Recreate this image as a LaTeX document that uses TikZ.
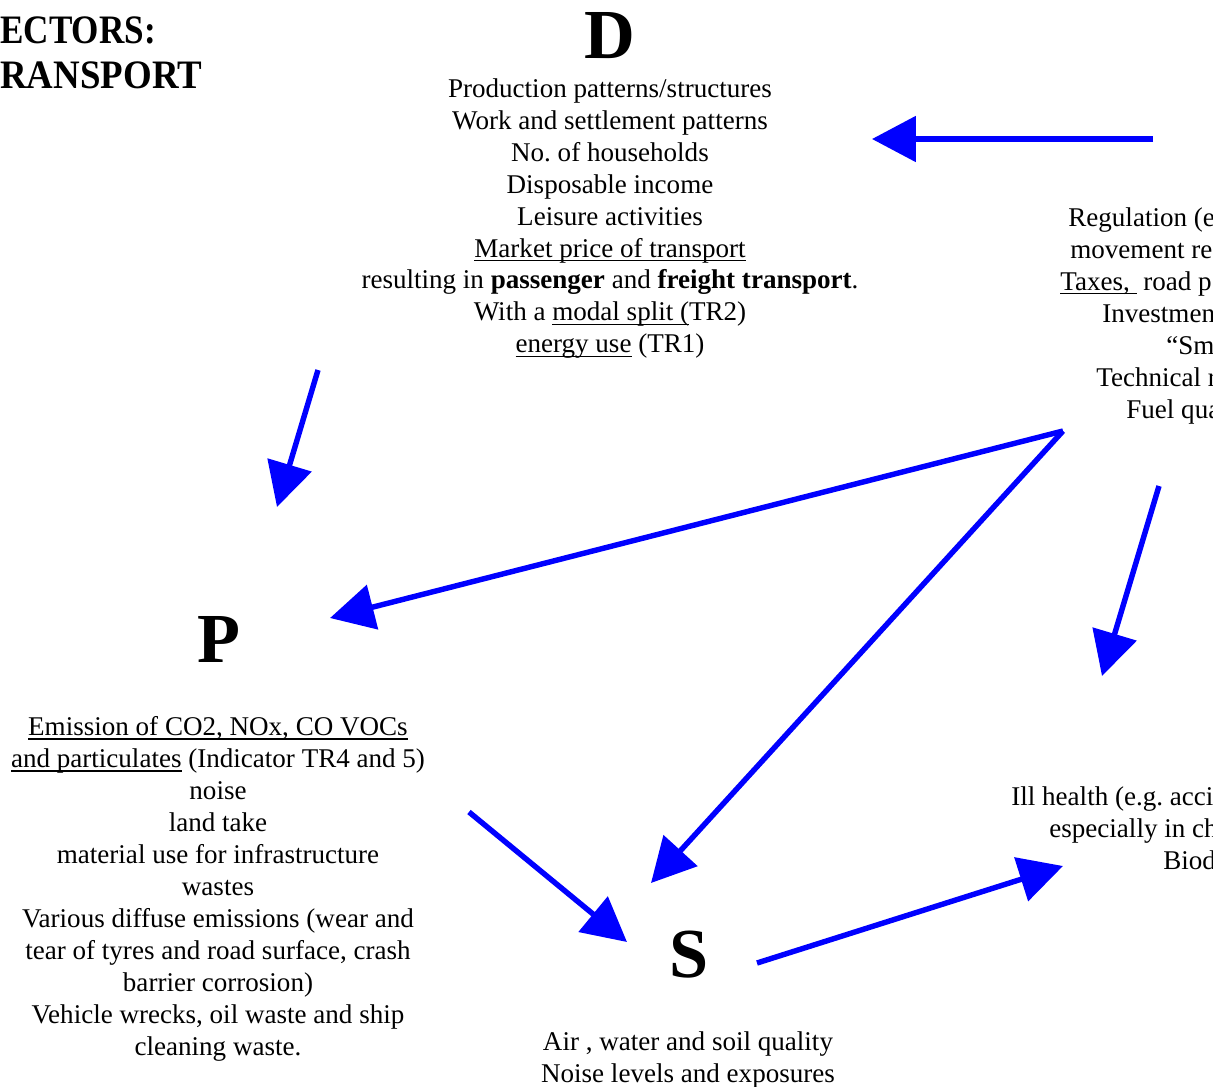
\documentclass[tikz,border=0pt]{standalone}
\usepackage{fontspec}
\setmainfont{Liberation Serif}
\usetikzlibrary{arrows.meta}
\newsavebox{\ulbox}
\newcommand{\ulined}[1]{\sbox{\ulbox}{#1}\rlap{\rule[-2.4pt]{\wd\ulbox}{0.8pt}}\usebox{\ulbox}}
\frenchspacing
\begin{document}
\begin{tikzpicture}[x=0.02cm, y=-0.02cm,
  txt/.style={inner sep=0pt, font=\fontsize{15.4}{18.2}\selectfont},
  letter/.style={inner sep=0pt, font=\fontsize{40}{48}\selectfont\bfseries},
  head/.style={inner sep=0pt, font=\fontsize{20}{24}\selectfont\bfseries},
  arr/.style={blue, line width=3.1pt, -{Triangle[length=25pt, width=25.6pt]}}]
\useasboundingbox (0,0) rectangle (1228,1086);
\clip (0,0) rectangle (1212,1086);

%heading
  \node[head, anchor=base west] (sec1) at (0,43) {\scalebox{1}[1.15]{ECTORS:}};
  \node[head, anchor=base west] (sec2) at (0,88) {\scalebox{1.05}[1.15]{RANSPORT}};

%driving forces
  \node[letter, anchor=base] (D) at (610,58) {D};
  \node[txt, align=center, anchor=north] (dtext) at (610,78) {Production patterns/structures\\
    Work and settlement patterns\\ No. of households\\ Disposable income\\
    Leisure activities\\ \ulined{Market price of transport}\\
    resulting in \textbf{passenger} and \textbf{freight transport}.\\
    With a \ulined{modal split (}TR2)\\ \ulined{energy use} (TR1)};

%responses (cut at the edge)
  \node[txt, anchor=base west] (r1) at (1068,226) {Regulation (e};
  \node[txt, anchor=base west] (r2) at (1070,258) {movement re};
  \node[txt, anchor=base west] (r3) at (1060,290) {\ulined{Taxes,\ }\ road p};
  \node[txt, anchor=base west] (r4) at (1102,322) {Investment};
  \node[txt, anchor=base west] (r5) at (1166,354) {“Sm};
  \node[txt, anchor=base west] (r6) at (1096,386) {Technical r};
  \node[txt, anchor=base west] (r7) at (1126,418) {Fuel qua};

%pressures
  \node[letter, anchor=base] (P) at (219,662) {P};
  \node[txt, align=center, anchor=north] (ptext) at (218,716) {\ulined{Emission of CO2, NOx, CO VOCs}\\
    \ulined{and particulates} (Indicator TR4 and 5)\\ noise\\ land take\\
    material use for infrastructure\\ wastes\\ Various diffuse emissions (wear and\\
    tear of tyres and road surface, crash\\ barrier corrosion)\\
    Vehicle wrecks, oil waste and ship\\ cleaning waste.};

%state
  \node[letter, anchor=base] (S) at (689,977) {S};
  \node[txt, align=center, anchor=north] (stext) at (688,1031) {Air , water and soil quality\\
    Noise levels and exposures};

%impacts (cut at the edge)
  \node[txt, anchor=base west] (i1) at (1011,805) {Ill health (e.g. accid};
  \node[txt, anchor=base west] (i2) at (1049,837) {especially in ch};
  \node[txt, anchor=base west] (i3) at (1163,869) {Biod};

%arrow ends
  \coordinate (rD) at (1153,139);  \coordinate (dR) at (872,139);
  \coordinate (dP) at (318,370);   \coordinate (pD) at (277,507);
  \coordinate (rX) at (1063,431);
  \coordinate (pR) at (330,618);   \coordinate (sR) at (651,883);
  \coordinate (rI) at (1159,486);  \coordinate (iR) at (1102,676);
  \coordinate (pS) at (469,812);   \coordinate (sP) at (627,942);
  \coordinate (sI) at (757,963);   \coordinate (iS) at (1063,866);

  \draw[arr] (rD) -- (dR);
  \draw[arr] (dP) -- (pD);
  \draw[arr] (rX) -- (pR);
  \draw[arr] (rX) -- (sR);
  \draw[arr] (rI) -- (iR);
  \draw[arr] (pS) -- (sP);
  \draw[arr] (sI) -- (iS);
\end{tikzpicture}
\end{document}
